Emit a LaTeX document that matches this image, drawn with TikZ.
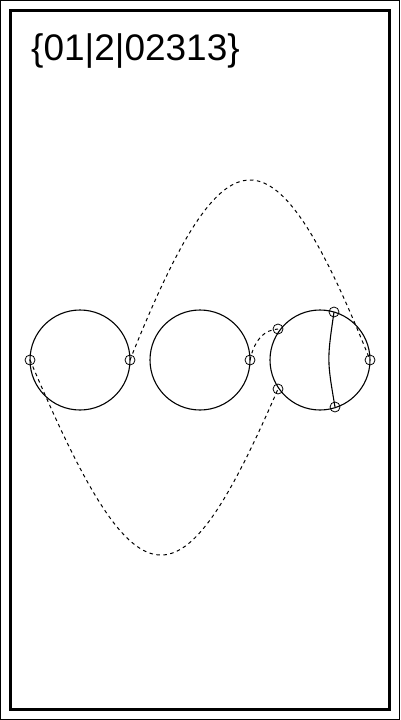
\documentclass[tikz,border=0pt]{standalone}
\usepackage{fontspec}
\setmainfont{Liberation Sans}
\begin{document}
\begin{tikzpicture}[x=1pt,y=-1pt,
  bigc/.style={draw,circle,line width=1.1pt,minimum size=100pt,inner sep=0pt},
  mk/.style={draw,circle,line width=0.8pt,minimum size=10pt,inner sep=0pt},
  link/.style={dashed,dash pattern=on 3.5pt off 3.5pt,line width=1pt},
  chord/.style={line width=1.1pt}]
\useasboundingbox (0,0) rectangle (400,720);
\draw[line width=1pt] (0.5,0.5) rectangle (399.5,719.5);
\draw[line width=2.2pt] (10.5,10.5) rectangle (389.5,709.5);
\node[anchor=base west,inner sep=0pt,font=\fontsize{37}{40}\selectfont] (lbl) at (31,60) {\{01|2|02313\}};
% big circles
\node[bigc] (c1) at (80,360) {};
\node[bigc] (c2) at (200,360) {};
\node[bigc] (c3) at (320,360) {};
% markers
\node[mk] (a1) at (30,360) {};
\node[mk] (a2) at (130,360) {};
\node[mk] (b1) at (250,360) {};
\node[mk] (d1) at (278,329) {};
\node[mk] (d2) at (334,312) {};
\node[mk] (d3) at (370,360) {};
\node[mk] (d4) at (335,407) {};
\node[mk] (d5) at (278,389) {};
% chord
\draw[chord] (d2.center) .. controls (327,360) .. (d4.center);
% dashed links
\draw[link] (a2.center) .. controls (226,120) and (274,120) .. (d3.center);
\draw[link] (a1.center) .. controls (138,615) and (180,615) .. (d5.center);
\draw[link] (b1.center) .. controls (255,338) and (265,330) .. (d1.center);
\end{tikzpicture}
\end{document}
